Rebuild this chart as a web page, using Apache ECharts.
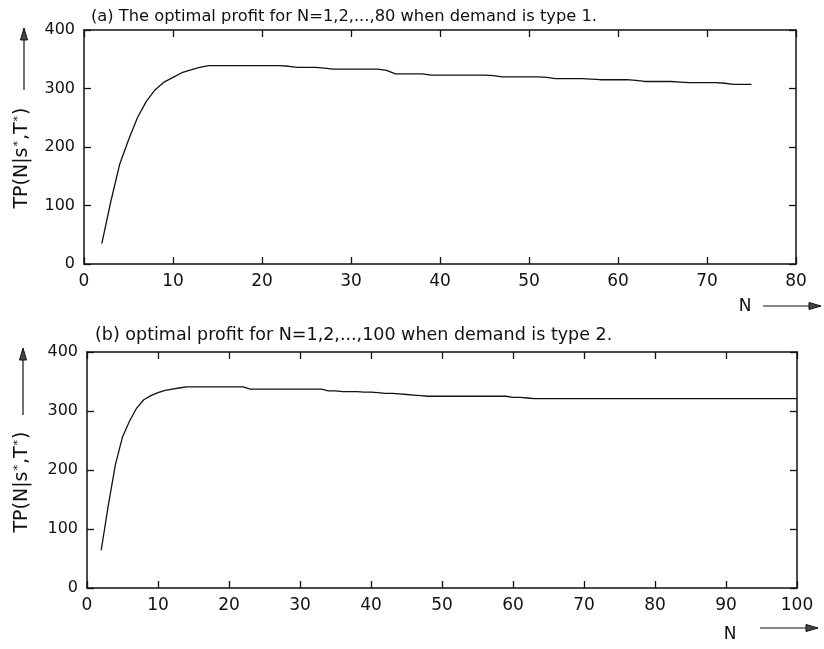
<!DOCTYPE html>
<html>
<head>
<meta charset="utf-8">
<script src="https://cdn.jsdelivr.net/npm/echarts@6/dist/echarts.min.js"></script>
<style>
  html, body { margin: 0; padding: 0; background: #fff; }
  #chart { width: 824px; height: 649px; }
</style>
</head>
<body>
<div id="chart"></div>
<script>
// Panel (a): demand type 1, N = 2..75
const nA = [2,3,4,5,6,7,8,9,10,11,12,13,14,15,16,17,18,19,20,21,22,23,24,25,26,27,28,29,30,31,32,33,34,35,36,37,38,39,40,41,42,43,44,45,46,47,48,49,50,51,52,53,54,55,56,57,58,59,60,61,62,63,64,65,66,67,68,69,70,71,72,73,74,75];
const profitA = [35,106,170,212,250,278,298,311,319,327,332,336,339,339,339,339,339,339,339,339,339,338,336,336,336,335,333,333,333,333,333,333,331,325,325,325,325,323,323,323,323,323,323,323,322,320,320,320,320,320,319,317,317,317,317,316,315,315,315,315,314,312,312,312,312,311,310,310,310,310,309,307,307,307];

// Panel (b): demand type 2, N = 2..100
const nB = [2,3,4,5,6,7,8,9,10,11,12,13,14,15,16,17,18,19,20,21,22,23,24,25,26,27,28,29,30,31,32,33,34,35,36,37,38,39,40,41,42,43,44,45,46,47,48,49,50,51,52,53,54,55,56,57,58,59,60,61,62,63,64,65,66,67,68,69,70,71,72,73,74,75,76,77,78,79,80,81,82,83,84,85,86,87,88,89,90,91,92,93,94,95,96,97,98,99,100];
const profitB = [64,140,209,256,283,305,319,326,331,335,337,339,341,341,341,341,341,341,341,341,341,337,337,337,337,337,337,337,337,337,337,337,334,334,333,333,333,332,332,331,330,330,329,328,327,326,325,325,325,325,325,325,325,325,325,325,325,325,323,323,322,321,321,321,321,321,321,321,321,321,321,321,321,321,321,321,321,321,321,321,321,321,321,321,321,321,321,321,321,321,321,321,321,321,321,321,321,321,321];

const titleA = '(a) The optimal profit for N=1,2,...,80 when demand is type 1.';
const titleB = '(b) optimal profit for N=1,2,...,100 when demand is type 2.';
const xName = 'N';

const INK = '#111';
const TICK_FONT = 'DejaVu Sans';
const TEXT_FONT = 'DejaVu Sans';

function zip(xs, ys) { return xs.map((x, i) => [x, ys[i]]); }

function mainX(grid, max) {
  return {
    type: 'value', gridIndex: grid, min: 0, max: max, interval: 10, position: 'bottom',
    axisLine: { show: true, onZero: false, lineStyle: { color: INK, width: 1.5 } },
    axisTick: { show: true, inside: true, length: 7, lineStyle: { color: INK, width: 1.3 } },
    axisLabel: { fontFamily: TICK_FONT, fontSize: 17, color: INK, margin: 9 },
    splitLine: { show: false }
  };
}
function mirrorX(grid, max) {
  return {
    type: 'value', gridIndex: grid, min: 0, max: max, interval: 10, position: 'top',
    axisLine: { show: true, onZero: false, lineStyle: { color: INK, width: 1.5 } },
    axisTick: { show: true, inside: true, length: 7, lineStyle: { color: INK, width: 1.3 } },
    axisLabel: { show: false }, splitLine: { show: false }
  };
}
function mainY(grid) {
  return {
    type: 'value', gridIndex: grid, min: 0, max: 400, interval: 100, position: 'left',
    axisLine: { show: true, onZero: false, lineStyle: { color: INK, width: 1.5 } },
    axisTick: { show: true, inside: true, length: 7, lineStyle: { color: INK, width: 1.3 } },
    axisLabel: { fontFamily: TICK_FONT, fontSize: 16, color: INK, margin: 9 },
    splitLine: { show: false }
  };
}
function mirrorY(grid) {
  return {
    type: 'value', gridIndex: grid, min: 0, max: 400, interval: 100, position: 'right',
    axisLine: { show: true, onZero: false, lineStyle: { color: INK, width: 1.5 } },
    axisTick: { show: true, inside: true, length: 7, lineStyle: { color: INK, width: 1.3 } },
    axisLabel: { show: false }, splitLine: { show: false }
  };
}

// Arrow helpers for the axis-name decorations
function arrowUp(x, yTip, yEnd) {
  return [
    { type: 'line', shape: { x1: x, y1: yTip + 10, x2: x, y2: yEnd }, style: { stroke: INK, lineWidth: 1.2 } },
    { type: 'polygon', shape: { points: [[x, yTip], [x - 3.5, yTip + 12], [x + 3.5, yTip + 12]] }, style: { fill: '#444', stroke: INK, lineWidth: 1 } }
  ];
}
function arrowRight(xStart, xTip, y) {
  return [
    { type: 'line', shape: { x1: xStart, y1: y, x2: xTip - 10, y2: y }, style: { stroke: INK, lineWidth: 1.2 } },
    { type: 'polygon', shape: { points: [[xTip, y], [xTip - 12, y - 3.5], [xTip - 12, y + 3.5]] }, style: { fill: '#444', stroke: INK, lineWidth: 1 } }
  ];
}
// Vertical y-axis name: TP(N|s*,T*) with small raised stars
function yNameText(x, y) {
  return { type: 'text', x: x, y: y, rotation: Math.PI / 2,
    style: {
      text: '{m|TP(N|s}{s|*}{m|,T}{s|*}{m|)}',
      align: 'center', verticalAlign: 'middle',
      rich: {
        m: { fontFamily: TEXT_FONT, fontSize: 19, fill: INK, color: INK },
        s: { fontFamily: TEXT_FONT, fontSize: 11, fill: INK, color: INK, verticalAlign: 'top', padding: [0, 1, 0, 1] }
      }
    } };
}
function hText(x, y, text) {
  return { type: 'text', x: x, y: y,
    style: { text: text, fontFamily: TEXT_FONT, fontSize: 17, fill: INK, align: 'center', verticalAlign: 'middle' } };
}

const chart = echarts.init(document.getElementById('chart'), null, { renderer: 'canvas' });

chart.setOption({
  backgroundColor: '#fff',
  animation: false,
  title: [
    { text: titleA, left: 86, top: 4, textStyle: { fontFamily: TEXT_FONT, fontSize: 16.3, fontWeight: 'normal', color: INK } },
    { text: titleB, left: 90, top: 321, textStyle: { fontFamily: TEXT_FONT, fontSize: 17.5, fontWeight: 'normal', color: INK } }
  ],
  grid: [
    { left: 84, top: 30, width: 712, height: 234, containLabel: false },
    { left: 87, top: 352, width: 710, height: 236, containLabel: false }
  ],
  xAxis: [mainX(0, 80), mirrorX(0, 80), mainX(1, 100), mirrorX(1, 100)],
  yAxis: [mainY(0), mirrorY(0), mainY(1), mirrorY(1)],
  series: [
    { type: 'line', xAxisIndex: 0, yAxisIndex: 0, data: zip(nA, profitA), showSymbol: false,
      lineStyle: { color: INK, width: 1.3 } },
    { type: 'line', xAxisIndex: 2, yAxisIndex: 2, data: zip(nB, profitB), showSymbol: false,
      lineStyle: { color: INK, width: 1.3 } }
  ],
  graphic: [
    yNameText(22, 158),
    ...arrowUp(24, 28, 90),
    hText(745, 307, xName),
    ...arrowRight(763, 821, 306),
    yNameText(22, 482),
    ...arrowUp(23, 348, 415),
    hText(730, 635, xName),
    ...arrowRight(760, 818, 628)
  ]
});
</script>
</body>
</html>
